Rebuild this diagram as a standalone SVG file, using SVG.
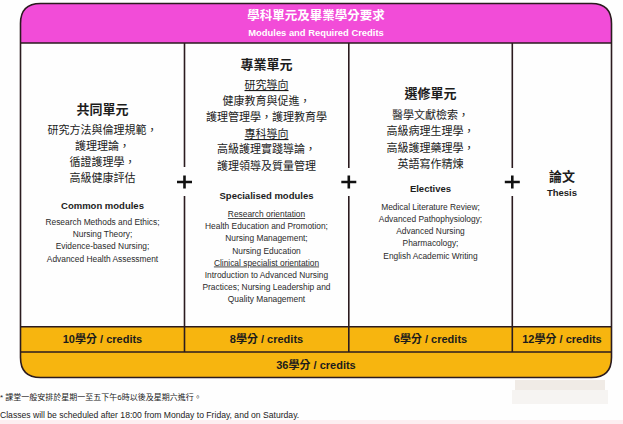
<svg xmlns="http://www.w3.org/2000/svg" width="623" height="424" viewBox="0 0 623 424">
<style>
text{font-family:"Liberation Sans","Noto Sans CJK TC",sans-serif;fill:#1c1c1c;text-anchor:middle}
.h1{font-size:12.5px;font-weight:bold;fill:#fff}
.h2{font-size:9.4px;font-weight:bold;fill:#fff}
.t{font-size:13px;font-weight:bold}
.c{font-size:11px}
.et{font-size:9.5px;font-weight:bold}
.e{font-size:8.4px;fill:#2a2a2a}
.u{text-decoration:underline}
.cr{font-size:11px;font-weight:bold}
.fn{font-size:8px;text-anchor:start;fill:#222}
.fe{font-size:8.6px}
.ln{stroke:#2b1b1f;stroke-width:1.6;fill:none}
.plus{stroke:#111;stroke-width:2.6;fill:none}
</style>
<rect x="0" y="0" width="623" height="424" fill="#fefefe"/>
<rect x="0" y="420" width="623" height="4" fill="#fdeef1"/>
<g id="watermark" opacity="0.55">
<rect x="515" y="380" width="90" height="12" fill="#e6ddd3"/>
<rect x="512" y="390" width="96" height="14" fill="#f1ede9"/>
</g>
<g id="header">
<path d="M20.5 43 V23.5 Q20.5 3.5 40.5 3.5 H591.5 Q611.5 3.5 611.5 23.5 V43 Z" fill="#f24cd8"/>
<text class="h1" x="316" y="20">學科單元及畢業學分要求</text>
<text class="h2" x="316" y="35.5">Modules and Required Credits</text>
</g>
<g id="common">
<text class="t" x="102.5" y="114">共同單元</text>
<text class="c" x="102.5" y="134">研究方法與倫理規範，</text>
<text class="c" x="102.5" y="150">護理理論，</text>
<text class="c" x="102.5" y="166">循證護理學，</text>
<text class="c" x="102.5" y="182">高級健康評估</text>
<text class="et" x="102.5" y="209">Common modules</text>
<text class="e" x="102.5" y="225">Research Methods and Ethics;</text>
<text class="e" x="102.5" y="237">Nursing Theory;</text>
<text class="e" x="102.5" y="249">Evidence-based Nursing;</text>
<text class="e" x="102.5" y="261.5">Advanced Health Assessment</text>
</g>
<g id="specialised">
<text class="t" x="266.5" y="68.5">專業單元</text>
<text class="c u" x="266.5" y="89">研究導向</text>
<text class="c" x="266.5" y="105">健康教育與促進，</text>
<text class="c" x="266.5" y="121">護理管理學，護理教育學</text>
<text class="c u" x="266.5" y="138">專科導向</text>
<text class="c" x="266.5" y="153">高級護理實踐導論，</text>
<text class="c" x="266.5" y="170">護理領導及質量管理</text>
<text class="et" x="266.5" y="198.5">Specialised modules</text>
<text class="e u" x="266.5" y="217">Research orientation</text>
<text class="e" x="266.5" y="229">Health Education and Promotion;</text>
<text class="e" x="266.5" y="241">Nursing Management;</text>
<text class="e" x="266.5" y="253.5">Nursing Education</text>
<text class="e u" x="266.5" y="265.5">Clinical specialist orientation</text>
<text class="e" x="266.5" y="278">Introduction to Advanced Nursing</text>
<text class="e" x="266.5" y="290">Practices; Nursing Leadership and</text>
<text class="e" x="266.5" y="302">Quality Management</text>
</g>
<g id="electives">
<text class="t" x="430.5" y="98">選修單元</text>
<text class="c" x="430.5" y="119">醫學文獻檢索，</text>
<text class="c" x="430.5" y="135">高級病理生理學，</text>
<text class="c" x="430.5" y="151.5">高級護理藥理學，</text>
<text class="c" x="430.5" y="168">英語寫作精煉</text>
<text class="et" x="430.5" y="191.5">Electives</text>
<text class="e" x="430.5" y="209.5">Medical Literature Review;</text>
<text class="e" x="430.5" y="222">Advanced Pathophysiology;</text>
<text class="e" x="430.5" y="234">Advanced Nursing</text>
<text class="e" x="430.5" y="246">Pharmacology;</text>
<text class="e" x="430.5" y="259">English Academic Writing</text>
</g>
<g id="thesis">
<text class="t" x="562" y="181">論文</text>
<text class="et" x="562" y="195.5">Thesis</text>
</g>
<g id="credits">
<rect x="20.5" y="326.7" width="591" height="25.3" fill="#f7b50f"/>
<path d="M20.5 352 H611.5 V357.5 Q611.5 377.5 591.5 377.5 H40.5 Q20.5 377.5 20.5 357.5 Z" fill="#f7b50f"/>
<text class="cr" x="102.5" y="342.5">10學分 / credits</text>
<text class="cr" x="266.5" y="342.5">8學分 / credits</text>
<text class="cr" x="430.5" y="342.5">6學分 / credits</text>
<text class="cr" x="562" y="342.5">12學分 / credits</text>
<text class="cr" x="316" y="369">36學分 / credits</text>
</g>
<g id="connectors">
<path class="ln" d="M20.5 43 V23.5 Q20.5 3.5 40.5 3.5 H591.5 Q611.5 3.5 611.5 23.5 V357.5 Q611.5 377.5 591.5 377.5 H40.5 Q20.5 377.5 20.5 357.5 Z"/>
<path class="ln" d="M20.5 43 H611.5 M20.5 326.7 H611.5 M20.5 352 H611.5"/>
<path class="ln" d="M184.5 43 V167 M184.5 196 V352 M348.8 43 V168 M348.8 196 V352 M512.3 43 V168 M512.3 196 V352"/>
<path class="plus" d="M177 182 H192 M184.5 175.5 V188.5 M341.3 182 H356.3 M348.8 175.5 V188.5 M504.8 182 H519.8 M512.3 175.5 V188.5"/>
</g>
<g id="footnote">
<text class="fn" x="0" y="400">* 課堂一般安排於星期一至五下午6時以後及星期六進行。</text>
<text class="fn fe" x="0" y="417.5">Classes will be scheduled after 18:00 from Monday to Friday, and on Saturday.</text>
</g>
</svg>
